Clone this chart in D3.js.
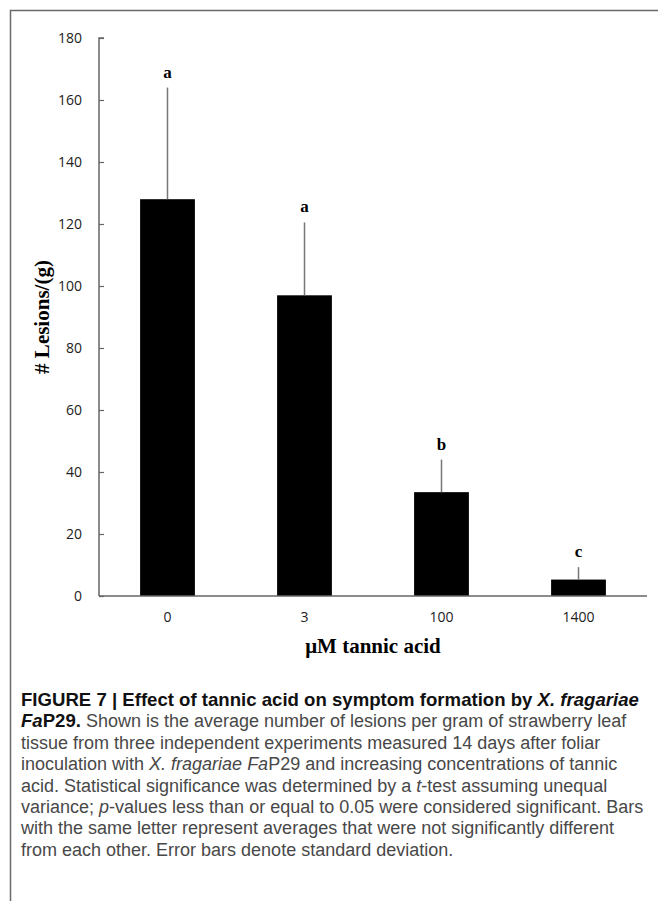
<!DOCTYPE html>
<html>
<head>
<meta charset="utf-8">
<script src="https://cdn.jsdelivr.net/npm/d3@7"></script>
<style>
  body { margin: 0; background: #fff; }
  svg { display: block; }
</style>
</head>
<body>
<svg id="chart" width="658" height="901"></svg>
<script>
// data
const concentrations = ['0', '3', '100', '1400']
const lesions = [128, 97, 33.5, 5.3]
const stdDev = [36, 23.5, 10.5, 4]
const letters = ['a', 'a', 'b', 'c']
const yTicks = [0, 20, 40, 60, 80, 100, 120, 140, 160, 180]

const captionLines = [
  [['b', 'FIGURE 7 | Effect of tannic acid on symptom formation by '], ['bi', 'X. fragariae']],
  [['bi', 'Fa'], ['b', 'P29.'], ['r', ' Shown is the average number of lesions per gram of strawberry leaf']],
  [['r', 'tissue from three independent experiments measured 14 days after foliar']],
  [['r', 'inoculation with '], ['i', 'X. fragariae Fa'], ['r', 'P29 and increasing concentrations of tannic']],
  [['r', 'acid. Statistical significance was determined by a '], ['i', 't'], ['r', '-test assuming unequal']],
  [['r', 'variance; '], ['i', 'p'], ['r', '-values less than or equal to 0.05 were considered significant. Bars']],
  [['r', 'with the same letter represent averages that were not significantly different']],
  [['r', 'from each other. Error bars denote standard deviation.']]
]

window.addEventListener('load', () => {
  const svg = d3.select('#chart')
  const left = 99, right = 647, top = 38, bottom = 596

  // frame
  svg.append('path')
    .attr('d', 'M10.5,901V10.5H658')
    .attr('fill', 'none')
    .attr('stroke', '#6a6a6a')
    .attr('stroke-width', 1.5)

  const x = d3.scaleBand().domain(concentrations).range([left, right]).paddingInner(0.6).paddingOuter(0.3)
  const y = d3.scaleLinear().domain([0, 180]).range([bottom, top])

  const g = svg.append('g')

  // y axis
  const yAxis = g.append('g')
    .attr('transform', `translate(${left},0)`)
    .call(d3.axisRight(y).tickValues(yTicks).tickSize(5).tickFormat(d3.format('d')))
  yAxis.select('.domain').attr('stroke', '#666').attr('stroke-width', 1.5)
    .attr('d', `M5,${top}H0V${bottom}`)
  yAxis.selectAll('.tick line').attr('stroke', '#666').attr('stroke-width', 1.2)
  yAxis.selectAll('.tick text')
    .attr('x', -17).attr('text-anchor', 'end')
    .attr('font-family', 'Open Sans, Liberation Sans, sans-serif')
    .attr('font-size', 14).attr('fill', '#222')

  // bars
  g.selectAll('rect.bar')
    .data(lesions)
    .enter()
    .append('rect')
    .attr('class', 'bar')
    .attr('x', (d, i) => x(concentrations[i]))
    .attr('width', x.bandwidth())
    .attr('y', (d) => y(d))
    .attr('height', (d) => y(0) - y(d))
    .attr('fill', '#000')

  // upper error whiskers
  g.selectAll('line.err')
    .data(lesions)
    .enter()
    .append('line')
    .attr('x1', (d, i) => x(concentrations[i]) + x.bandwidth() / 2)
    .attr('x2', (d, i) => x(concentrations[i]) + x.bandwidth() / 2)
    .attr('y1', (d) => y(d))
    .attr('y2', (d, i) => y(d + stdDev[i]))
    .attr('stroke', '#777')
    .attr('stroke-width', 1.5)

  // significance letters
  g.selectAll('text.letter')
    .data(letters)
    .enter()
    .append('text')
    .attr('x', (d, i) => x(concentrations[i]) + x.bandwidth() / 2)
    .attr('y', (d, i) => y(lesions[i] + stdDev[i]) - 10)
    .attr('text-anchor', 'middle')
    .attr('font-family', 'Liberation Serif, serif')
    .attr('font-weight', 'bold')
    .attr('font-size', 17)
    .text((d) => d)

  // x axis
  const xAxis = g.append('g')
    .attr('transform', `translate(0,${bottom})`)
    .call(d3.axisBottom(x).tickSize(0).tickPadding(16))
  xAxis.select('.domain').attr('stroke', '#666').attr('stroke-width', 1.5)
    .attr('d', `M${left},0H${right}`)
  xAxis.selectAll('.tick text')
    .attr('font-family', 'Open Sans, Liberation Sans, sans-serif')
    .attr('font-size', 14).attr('fill', '#222')

  // axis titles
  svg.append('text')
    .attr('x', (left + right) / 2)
    .attr('y', 653)
    .attr('text-anchor', 'middle')
    .attr('font-family', 'Liberation Serif, serif')
    .attr('font-weight', 'bold')
    .attr('font-size', 21)
    .text('μM tannic acid')

  svg.append('text')
    .attr('transform', 'translate(49,317) rotate(-90)')
    .attr('text-anchor', 'middle')
    .attr('font-family', 'Liberation Serif, serif')
    .attr('font-weight', 'bold')
    .attr('font-size', 21)
    .text('# Lesions/(g)')

  // caption
  const cap = svg.append('text')
    .attr('font-family', 'Liberation Sans, Arial, sans-serif')
  captionLines.forEach((line, i) => {
    line.forEach(([style, str], j) => {
      const t = cap.append('tspan').text(str)
      if (j === 0) t.attr('x', 21).attr('y', 706 + i * 21.4)
      const bold = style[0] === 'b'
      t.attr('font-weight', bold ? 'bold' : 'normal')
        .attr('font-size', bold ? 18.6 : 18)
        .attr('font-style', style.includes('i') ? 'italic' : 'normal')
        .attr('fill', bold ? '#111' : '#484848')
    })
  })
})
</script>
</body>
</html>
